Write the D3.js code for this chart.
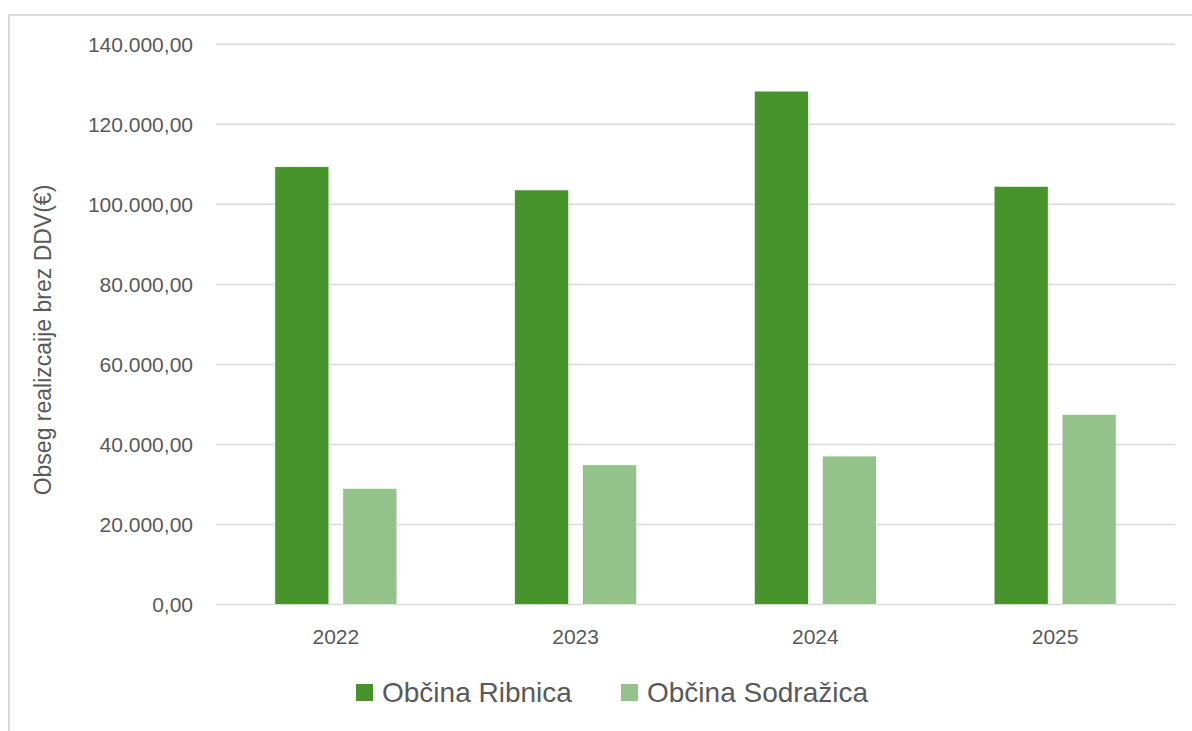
<!DOCTYPE html>
<html>
<head>
<meta charset="utf-8">
<script src="https://cdn.jsdelivr.net/npm/d3@7"></script>
<style>
  html, body { margin: 0; padding: 0; background: #ffffff; }
  svg { display: block; font-family: "Liberation Sans", Arial, sans-serif; }
</style>
</head>
<body>
<svg id="chart" width="1192" height="731"></svg>
<script>
const categories = ["2022", "2023", "2024", "2025"];
const seriesNames = ["Občina Ribnica", "Občina Sodražica"];
const ribnica = [109400, 103600, 128300, 104500];
const sodrazica = [29000, 34900, 37100, 47500];
const yTicks = [0, 20000, 40000, 60000, 80000, 100000, 120000, 140000];
const seriesColors = ["#47932b", "#93c28a"];
const yTitle = "Obseg realizcaije brez DDV(€)";

(function () {
const svg = d3.select("#chart");

// frame
svg.append("line").attr("x1", 9).attr("x2", 1192).attr("y1", 15).attr("y2", 15)
  .attr("stroke", "#d9d9d9").attr("stroke-width", 2);
svg.append("line").attr("x1", 9).attr("x2", 9).attr("y1", 14).attr("y2", 731)
  .attr("stroke", "#d9d9d9").attr("stroke-width", 2);

const pL = 216, pR = 1175, pT = 44.3, pB = 604.5;

const x = d3.scaleBand().domain(categories).range([pL, pR]).padding(0);
const x1 = d3.scaleBand().domain(seriesNames).range([-61, 61]).paddingInner(14 / 68).paddingOuter(0);
const y = d3.scaleLinear().domain([0, 140000]).range([pB, pT]);

const fmt = v => {
  const s = d3.format(",.2f")(v);
  return s.replace(/,/g, "X").replace(/\./g, ",").replace(/X/g, ".");
};

// gridlines
svg.append("g").selectAll("line").data(yTicks).join("line")
  .attr("x1", pL).attr("x2", pR)
  .attr("y1", d => y(d)).attr("y2", d => y(d))
  .attr("stroke", "#d9d9d9").attr("stroke-width", 1.5);

// y axis labels
const yAxis = d3.axisLeft(y).tickValues(yTicks).tickFormat(fmt).tickSize(0).tickPadding(0);
const yg = svg.append("g").attr("transform", "translate(193,0)").call(yAxis);
yg.select(".domain").remove();
yg.selectAll("text").attr("font-size", 21).attr("fill", "#595959")
  .attr("font-family", "Liberation Sans, Arial, sans-serif").attr("dy", "0.35em");

// x axis labels
const xAxis = d3.axisBottom(x).tickSize(0).tickPadding(0);
const xg = svg.append("g").attr("transform", "translate(0,628)").call(xAxis);
xg.select(".domain").remove();
xg.selectAll("text").attr("font-size", 21).attr("fill", "#595959")
  .attr("font-family", "Liberation Sans, Arial, sans-serif").attr("dy", "0.75em");

// bars
const data = categories.map((c, i) => ({ cat: c, values: [ribnica[i], sodrazica[i]] }));
const groups = svg.append("g").selectAll("g").data(data).join("g")
  .attr("transform", d => `translate(${x(d.cat) + x.bandwidth() / 2},0)`);
groups.selectAll("rect").data(d => d.values.map((v, k) => ({ name: seriesNames[k], v, k })))
  .join("rect")
  .attr("x", d => x1(d.name))
  .attr("width", x1.bandwidth())
  .attr("y", d => y(d.v))
  .attr("height", d => y(0) - y(d.v))
  .attr("fill", d => seriesColors[d.k])
  .attr("stroke", "#ffffff").attr("stroke-width", 0.6);

// y title
svg.append("text")
  .attr("transform", "translate(51,340) rotate(-90)")
  .attr("text-anchor", "middle")
  .attr("font-size", 23)
  .attr("fill", "#595959")
  .text(yTitle);

// legend
const legendX = [356, 621];
const leg = svg.append("g").selectAll("g").data(seriesNames).join("g")
  .attr("transform", (d, i) => `translate(${legendX[i]},0)`);
leg.append("rect").attr("x", 0).attr("y", 684).attr("width", 17).attr("height", 17)
  .attr("fill", (d, i) => seriesColors[i]);
leg.append("text").attr("x", 26).attr("y", 702)
  .attr("font-size", 28).attr("fill", "#595959").text(d => d);
})();
</script>
</body>
</html>
